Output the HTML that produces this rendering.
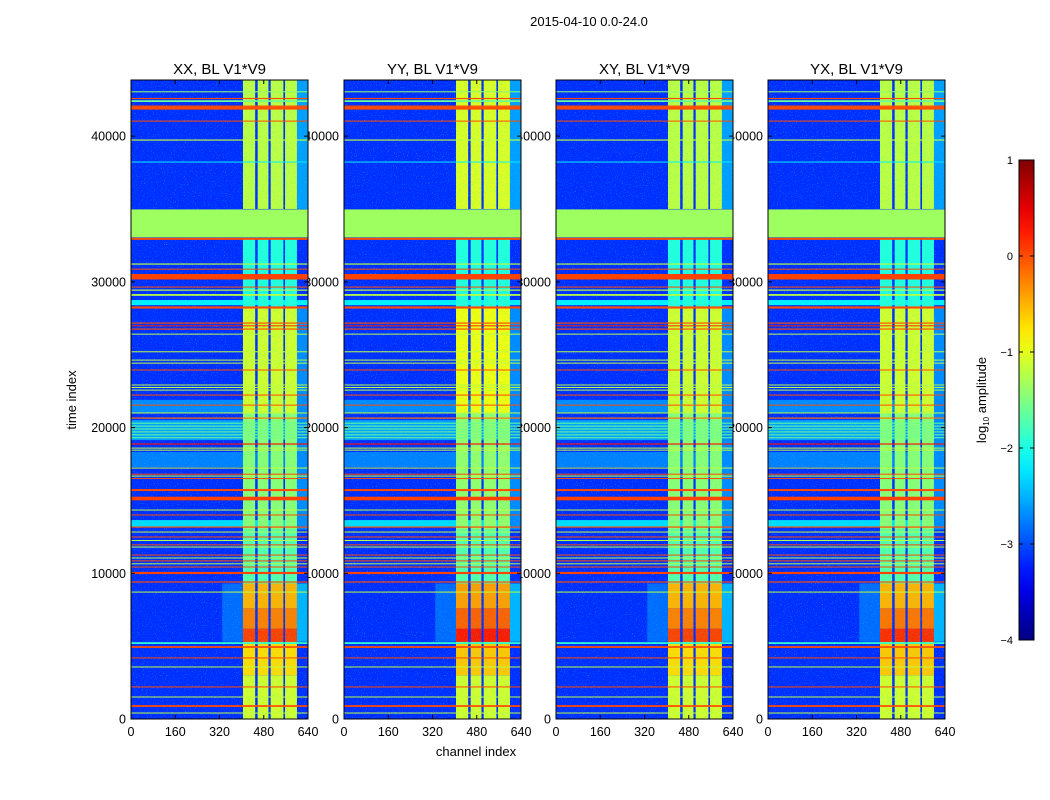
<!DOCTYPE html>
<html><head><meta charset="utf-8"><style>
html,body{margin:0;padding:0;background:#fff;}
svg{display:block;font-family:"Liberation Sans","DejaVu Sans",sans-serif;}
</style></head>
<body>
<svg id="chart" width="1050" height="800" viewBox="0 0 1050 800">
<defs>
<filter id="speck" x="0" y="0" width="100%" height="100%">
<feTurbulence type="fractalNoise" baseFrequency="0.9" numOctaves="1" seed="3" result="n"/>
<feColorMatrix in="n" type="matrix" values="0 0 0 0 0  0 0 0 0 0.8  0 0 0 0 1  0 0 0 6 -3.6"/>
</filter>
</defs>
<rect width="1050" height="800" fill="#fff"/>
<text x="589" y="26" font-size="13" text-anchor="middle">2015-04-10 0.0-24.0</text>
<text transform="translate(76,400) rotate(-90)" font-size="13" text-anchor="middle">time index</text>
<text x="476" y="756" font-size="13" text-anchor="middle">channel index</text>
<g id="labels"></g>
<g id="panels"></g>
<g id="cbar"></g>
</svg>
<script>
// ---- data ----
const panelTitles = ["XX, BL V1*V9","YY, BL V1*V9","XY, BL V1*V9","YX, BL V1*V9"];
const xTicks = [0,160,320,480,640];
const yTicks = [0,10000,20000,30000,40000];
const cbTicks = [1,0,-1,-2,-3,-4];
const backgroundValue = -3.15;
// broad full-width background bands: [tStart, tEnd, log10 value]
const bgBands = [[21000,21900,-2.7],[19140,20510,-2.6],[17290,18320,-2.75],[13170,13650,-2.3],[28400,28750,-2.2]];
// channel stripes of the bright region: [chStart, chEnd]
const stripes = [[405,449],[458,497],[505,551],[557,600]];
// time segments of the bright region: [tStart, tEnd, value per panel]
const stripeSegments = [
  [0,3000,[-1.1,-1.1,-1.1,-1.1]],
  [3000,5300,[-0.7,-0.6,-0.7,-0.6]],
  [5300,6200,[0.05,0.25,0.05,0.15]],
  [6200,7600,[-0.25,-0.1,-0.25,-0.2]],
  [7600,9300,[-0.5,-0.4,-0.5,-0.5]],
  [9300,13000,[-1.7,-1.7,-1.7,-1.7]],
  [13000,21000,[-1.45,-1.4,-1.45,-1.45]],
  [21000,28300,[-1.1,-0.95,-1.1,-1.1]],
  [28300,33000,[-1.95,-1.95,-1.95,-1.95]],
  [35000,43850,[-1.2,-1.05,-1.2,-1.2]]
];
// faint halo around bright region: [chStart, chEnd, tStart, tEnd, value]
const halos = [[330,405,5300,9300,-2.85],[600,640,5300,9300,-2.5],[600,640,35000,43850,-2.6],[600,640,13000,28300,-2.7]];
// horizontal RFI lines: [time, thickness(time units), value]
const hLines = [
  [43040,70,-1.4],[42580,80,0],[42400,120,-1.6],[42060,80,0],[41920,200,0],[41030,60,0],[39730,80,-1.2],[38220,50,-2.2],
  [32950,140,0],[31220,80,-1.2],[30870,60,0],[30350,380,0.05],[29640,70,0],[29430,80,-1.2],[29100,120,-1.2],[28240,150,0],
  [27170,80,0],[26980,60,0.2],[26760,80,0],[26410,60,-1.2],[25200,60,-1.2],[24630,60,-1.2],[24420,60,-1.2],[23950,60,0],
  [22920,60,-1.2],[22750,60,-1.2],[22570,60,-1.2],[22230,60,0],[21540,60,0],[21000,70,-1.2],[20650,80,-0.2],
  [20300,40,-1.6],[20100,40,-1.6],[19900,40,-1.6],[19700,40,-1.6],[19500,40,-1.6],[19300,40,-1.6],[18870,80,0.3],
  [18590,60,-1.2],[18450,50,-1.2],[17220,60,-1.2],[16800,60,0],[16670,70,-1.2],[16500,60,0],[15710,140,0],
  [15130,250,0.05],[14340,60,-1.2],[14000,60,0],[13170,80,0],[12830,60,-1.2],[12490,60,0],[12250,60,-1.2],
  [11950,60,0],[11800,60,-1.2],[11250,60,0],[11050,60,-1.2],[10850,70,0],[10650,60,-1.2],[10430,70,0],
  [10020,150,0.05],[9400,80,0],[8710,60,-1.2],[5210,120,-1.9],[4940,120,0],[4190,60,0],[3570,60,-1.2],
  [2200,70,0],[1510,60,-1.2],[890,120,0],[410,60,-1.2]
];
// flagged block
const flagBlock = [33050,34970,-1.35];

// ---- scales ----
const panelX = [131,344,556,768], panelW = 177, yTop = 80, yBot = 719, tMax = 43850;
const sx = (p,c) => panelX[p] + c*panelW/640;
const sy = t => yBot - t*(yBot-yTop)/tMax;
function jet(v){
  const x = Math.max(0,Math.min(1,(v+4)/5));
  const cl = a => Math.round(255*Math.max(0,Math.min(1,a)));
  return `rgb(${cl(1.5-Math.abs(4*x-3))},${cl(1.5-Math.abs(4*x-2))},${cl(1.5-Math.abs(4*x-1))})`;
}
const NS = "http://www.w3.org/2000/svg";
function mk(tag, attrs, parent){
  const e = document.createElementNS(NS, tag);
  for (const k in attrs) e.setAttribute(k, attrs[k]);
  parent.appendChild(e); return e;
}
const labels = document.getElementById('labels');
const panels = document.getElementById('panels');

panelTitles.forEach((title,p)=>{
  yTicks.forEach(t=>{
    const tx = mk('text',{x:panelX[p]-5,y:sy(t)+4.5,'font-size':12.5,'text-anchor':'end'},labels);
    tx.textContent = t;
    
    
  });
  xTicks.forEach(c=>{
    const tx = mk('text',{x:sx(p,c),y:736,'font-size':12.5,'text-anchor':'middle'},labels);
    tx.textContent = c;
    
    
  });
  const g = mk('g',{},panels);
  
  
  const cp = mk('clipPath',{id:'clip'+p},g);
  mk('rect',{x:panelX[p],y:yTop,width:panelW,height:yBot-yTop},cp);
  const h = mk('g',{'clip-path':`url(#clip${p})`},g);
  
  
  const bg = mk('rect',{x:panelX[p],y:yTop,width:panelW,height:yBot-yTop,fill:jet(backgroundValue)},h);
  
  
  bgBands.forEach(b=>{
    const r = mk('rect',{x:sx(p,0),y:sy(b[1]),width:sx(p,640)-sx(p,0),height:sy(b[0])-sy(b[1]),fill:jet(b[2])},h);
    
    
  });
  halos.forEach(b=>{
    const r = mk('rect',{x:sx(p,b[0]),y:sy(b[3]),width:sx(p,b[1])-sx(p,b[0]),height:sy(b[2])-sy(b[3]),fill:jet(b[4])},h);
    
    
  });
  stripeSegments.forEach(s=>{
    stripes.forEach(st=>{
      const r = mk('rect',{x:sx(p,st[0]),y:sy(s[1]),width:sx(p,st[1])-sx(p,st[0]),height:sy(s[0])-sy(s[1]),fill:jet(s[2][p])},h);
      
      
    });
  });
  const nz = mk('rect',{x:panelX[p],y:yTop,width:panelW,height:yBot-yTop,filter:'url(#speck)',opacity:0.45},h);
  
  
  hLines.forEach(l=>{
    const hh = Math.max(1, sy(0)-sy(l[1]));
    const r = mk('rect',{x:sx(p,0),y:sy(l[0])-hh/2,width:sx(p,640)-sx(p,0),height:hh,fill:jet(l[2])},h);
    
    
  });
  const fb = mk('rect',{x:sx(p,0),y:sy(flagBlock[1]),width:sx(p,640)-sx(p,0),height:sy(flagBlock[0])-sy(flagBlock[1]),fill:jet(flagBlock[2])},h);
  
  
  const fr = mk('rect',{x:panelX[p],y:yTop,width:panelW,height:yBot-yTop,fill:'none',stroke:'#000','stroke-width':1},g);
  
  
  xTicks.forEach(c=>{
    mk('line',{x1:sx(p,c),x2:sx(p,c),y1:yBot,y2:yBot-4,stroke:'#000'},g);
    mk('line',{x1:sx(p,c),x2:sx(p,c),y1:yTop,y2:yTop+4,stroke:'#000'},g);
  });
  yTicks.forEach(t=>{
    mk('line',{x1:panelX[p],x2:panelX[p]+4,y1:sy(t),y2:sy(t),stroke:'#000'},g);
    mk('line',{x1:panelX[p]+panelW,x2:panelX[p]+panelW-4,y1:sy(t),y2:sy(t),stroke:'#000'},g);
  });
  const tt = mk('text',{x:panelX[p]+panelW/2,y:74,'font-size':15,'text-anchor':'middle'},g);
  tt.textContent = title;
  
  
});

// colorbar
const cb = document.getElementById('cbar');
const cbTop = 160, cbBot = 640, cbX = 1019, cbW = 15;
const cbY = v => cbBot - (v+4)/5*(cbBot-cbTop);
const defs = mk('defs',{},cb);
const lg = mk('linearGradient',{id:'jetg',x1:0,y1:1,x2:0,y2:0},defs);
for (let i=0;i<=20;i++){ mk('stop',{offset:i/20,'stop-color':jet(-4+5*i/20)},lg); }
const bar = mk('rect',{x:cbX,y:cbTop,width:cbW,height:cbBot-cbTop,fill:'url(#jetg)',stroke:'#000'},cb);


cbTicks.forEach(v=>{
  mk('line',{x1:cbX,x2:cbX+4,y1:cbY(v),y2:cbY(v),stroke:'#000'},cb);
  mk('line',{x1:cbX+cbW,x2:cbX+cbW-4,y1:cbY(v),y2:cbY(v),stroke:'#000'},cb);
  const tx = mk('text',{x:1013,y:cbY(v)+4,'font-size':11,'text-anchor':'end'},cb);
  tx.textContent = v<0 ? '\u2212'+(-v) : String(v);
  
  
});
const cl = mk('text',{transform:'translate(986,400) rotate(-90)','font-size':13,'text-anchor':'middle'},cb);
cl.innerHTML = 'log<tspan font-size="8" dy="3">10</tspan><tspan dy="-3"> amplitude</tspan>';


</script>
</body></html>
